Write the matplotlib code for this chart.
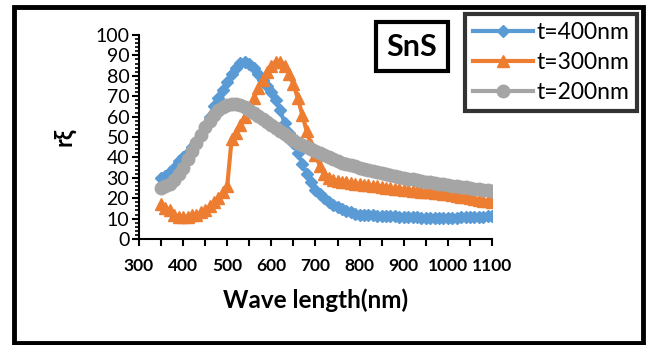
import numpy as np
import matplotlib.pyplot as plt
from matplotlib.ticker import MultipleLocator
from matplotlib.patches import Rectangle

# wavelength grid (nm) and the three film thicknesses
wavelength = list(range(350, 1101, 10))

t400 = [30, 31, 33, 35, 38, 40, 42, 45, 48, 51,
        55, 60, 65, 69, 73, 77, 81, 84, 86.5, 87,
        86, 84, 81, 78, 75, 72, 68, 63, 57, 52,
        47, 42, 37, 32, 28, 24, 22, 20, 18, 16.5,
        15.5, 14.5, 13.5, 13, 12.5, 12, 12, 11.8, 11.6, 11.5,
        11.4, 11.3, 11.2, 11.1, 11, 11, 10.8, 10.7, 10.6, 10.5,
        10.5, 10.4, 10.4, 10.3, 10.3, 10.3, 10.4, 10.5, 10.6, 10.7,
        10.8, 10.9, 11, 11, 11.1, 11.2]

t300 = [17, 15, 14, 12, 11, 11, 11, 12, 12, 13,
        14, 16, 18, 20, 23, 26, 49, 52, 56, 60,
        64, 69, 74, 78, 82, 85, 87, 87, 85, 81,
        76, 69, 61, 53, 46, 41, 36, 32, 30, 29,
        28.5, 28, 28, 27.5, 27, 27, 26.7, 26.4, 26.1, 25.8,
        25.5, 25.2, 24.9, 24.6, 24.3, 24, 23.8, 23.6, 23.4, 23.2,
        23, 22.8, 22.6, 22.4, 22.2, 22, 21.6, 21.2, 20.8, 20.4,
        20, 19.6, 19.2, 18.8, 18.4, 18]

t200 = [25, 26, 27, 29, 32, 35, 39, 43, 47, 51,
        55, 58, 61, 63, 64.5, 65.5, 66, 66, 65.5, 64.5,
        63, 62, 60.5, 59, 57.5, 56, 54.5, 53, 51.5, 50,
        48.5, 47, 46, 45, 44, 43, 42, 41, 40, 39,
        38, 37.4, 36.8, 36.2, 35.6, 35, 34.5, 34, 33.5, 33,
        32.5, 32, 31.5, 31, 30.5, 30, 29.6, 29.2, 28.8, 28.4,
        28, 27.7, 27.4, 27.1, 26.8, 26.5, 26.2, 25.9, 25.6, 25.3,
        25, 24.7, 24.4, 24.1, 23.8, 23.5]

labels = ['t=400nm', 't=300nm', 't=200nm']
colors = ['#5B9BD5', '#ED7D31', '#A5A5A5']

plt.rcParams['font.family'] = ['Lato', 'DejaVu Sans']

fig = plt.figure(figsize=(6.47, 3.45), dpi=100)
ax = fig.add_axes([0.2148, 0.3072, 0.7604 - 0.2148, 0.8986 - 0.3072])

ax.plot(wavelength, t400, color=colors[0], lw=3, marker='D', ms=6.5, label=labels[0])
ax.plot(wavelength, t300, color=colors[1], lw=3, marker='^', ms=9, label=labels[1])
ax.plot(wavelength, t200, color=colors[2], lw=3, marker='o', ms=9, label=labels[2])

ax.set_xlim(300, 1100)
ax.set_ylim(0, 100)
ax.xaxis.set_major_locator(MultipleLocator(100))
ax.xaxis.set_minor_locator(MultipleLocator(50))
ax.yaxis.set_major_locator(MultipleLocator(10))
ax.yaxis.set_minor_locator(MultipleLocator(2))

for side in ['top', 'right']:
    ax.spines[side].set_visible(False)
for side in ['left', 'bottom']:
    ax.spines[side].set_linewidth(1.5)
    ax.spines[side].set_color('black')

ax.tick_params(axis='y', which='major', length=5, width=1.5, labelsize=14, pad=2)
ax.tick_params(axis='y', which='minor', length=3, width=1.2)
ax.tick_params(axis='x', which='both', length=5, width=1.5, labelsize=12.5, pad=9)
for lbl in ax.get_xticklabels():
    lbl.set_fontweight('bold')

ax.set_xlabel('Wave length(nm)', fontsize=17.5, fontweight='bold', labelpad=10)
ax.set_ylabel('rξ', fontsize=17, fontweight='bold', labelpad=14)

fig.text(0.637, 0.865, 'SnS', fontsize=22, fontweight='bold', ha='center', va='center',
         bbox=dict(boxstyle='square,pad=0.35', fc='white', ec='black', lw=3))

leg = fig.legend(loc='upper right', bbox_to_anchor=(0.9845, 0.959), fontsize=16.5,
                 frameon=True, fancybox=False, edgecolor='black', handlelength=2.6,
                 handletextpad=0.15, borderpad=0.35, labelspacing=0.38, borderaxespad=0)
leg.get_frame().set_linewidth(3)

# outer frame
fig.patches.append(Rectangle((14 / 647, 2 / 345), 629 / 647, 336.5 / 345,
                             transform=fig.transFigure, fill=False, ec='black', lw=3.5))

fig.savefig('out.png', dpi=100)
